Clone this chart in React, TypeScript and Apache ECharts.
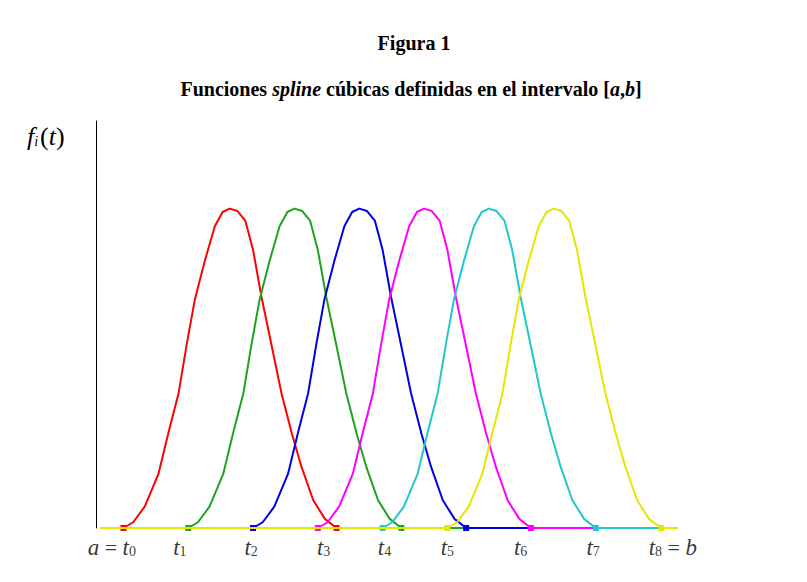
import React, { useEffect, useRef } from "react";
import * as echarts from "echarts";

// Curves: [t, f(t)]
const redCurve: number[][] = [
  [0, 0], [0.15, 0.012], [0.33, 0.045], [0.54, 0.113], [0.69, 0.197], [0.85, 0.281], [0.98, 0.386],
  [1.1, 0.476], [1.26, 0.56], [1.41, 0.63], [1.53, 0.66], [1.64, 0.667], [1.76, 0.662], [1.88, 0.642],
  [2.0, 0.581], [2.13, 0.483], [2.29, 0.379], [2.44, 0.281], [2.6, 0.197], [2.75, 0.127], [2.93, 0.058],
  [3.11, 0.019], [3.29, 0],
];
const greenCurve: number[][] = [
  [1, 0], [1.15, 0.012], [1.33, 0.045], [1.54, 0.113], [1.69, 0.197], [1.85, 0.281], [1.98, 0.386],
  [2.1, 0.476], [2.26, 0.56], [2.41, 0.63], [2.53, 0.66], [2.64, 0.667], [2.76, 0.662], [2.88, 0.642],
  [3.0, 0.581], [3.13, 0.483], [3.29, 0.379], [3.44, 0.281], [3.6, 0.197], [3.75, 0.127], [3.93, 0.058],
  [4.11, 0.019], [4.29, 0],
];
const blueCurve: number[][] = [
  [2, 0], [2.15, 0.012], [2.33, 0.045], [2.54, 0.113], [2.69, 0.197], [2.85, 0.281], [2.98, 0.386],
  [3.1, 0.476], [3.26, 0.56], [3.41, 0.63], [3.53, 0.66], [3.64, 0.667], [3.76, 0.662], [3.88, 0.642],
  [4.0, 0.581], [4.13, 0.483], [4.29, 0.379], [4.44, 0.281], [4.6, 0.197], [4.75, 0.127], [4.93, 0.058],
  [5.11, 0.019], [5.29, 0],
];
const magentaCurve: number[][] = [
  [3, 0], [3.15, 0.012], [3.33, 0.045], [3.54, 0.113], [3.69, 0.197], [3.85, 0.281], [3.98, 0.386],
  [4.1, 0.476], [4.26, 0.56], [4.41, 0.63], [4.53, 0.66], [4.64, 0.667], [4.76, 0.662], [4.88, 0.642],
  [5.0, 0.581], [5.13, 0.483], [5.29, 0.379], [5.44, 0.281], [5.6, 0.197], [5.75, 0.127], [5.93, 0.058],
  [6.11, 0.019], [6.29, 0],
];
const cyanCurve: number[][] = [
  [4, 0], [4.15, 0.012], [4.33, 0.045], [4.54, 0.113], [4.69, 0.197], [4.85, 0.281], [4.98, 0.386],
  [5.1, 0.476], [5.26, 0.56], [5.41, 0.63], [5.53, 0.66], [5.64, 0.667], [5.76, 0.662], [5.88, 0.642],
  [6.0, 0.581], [6.13, 0.483], [6.29, 0.379], [6.44, 0.281], [6.6, 0.197], [6.75, 0.127], [6.93, 0.058],
  [7.11, 0.019], [7.29, 0],
];
const yellowCurve: number[][] = [
  [5, 0], [5.15, 0.012], [5.33, 0.045], [5.54, 0.113], [5.69, 0.197], [5.85, 0.281], [5.98, 0.386],
  [6.1, 0.476], [6.26, 0.56], [6.41, 0.63], [6.53, 0.66], [6.64, 0.667], [6.76, 0.662], [6.88, 0.642],
  [7.0, 0.581], [7.13, 0.483], [7.29, 0.379], [7.44, 0.281], [7.6, 0.197], [7.75, 0.127], [7.93, 0.058],
  [8.11, 0.019], [8.3, 0],
];

const curveColors = ["#ff0000", "#1fa31f", "#0000e0", "#ff00ff", "#22c8c8", "#e6e600"];
const domain = [-0.36, 8.56];

// Knot labels: position on t axis and subscript
const knotPos = [-0.18, 0.87, 1.97, 3.09, 4.03, 5.0, 6.13, 7.25, 8.48];
const knotIdx = ["0", "1", "2", "3", "4", "5", "6", "7", "8"];

export default function App() {
  const ref = useRef<HTMLDivElement>(null);
  useEffect(() => {
    const chart = echarts.init(ref.current!, null, { renderer: "svg" });
    const curves = [redCurve, greenCurve, blueCurve, magentaCurve, cyanCurve, yellowCurve];
    const serif = "'Liberation Serif', 'Times New Roman', serif";
    const richT = {
      t: { fontFamily: serif, fontStyle: "italic", fontSize: 23, color: "#000" },
      s: { fontFamily: serif, fontSize: 14, color: "#000", padding: [8, 0, 0, 0] },
      e: { fontFamily: serif, fontSize: 22, color: "#000" },
    };
    const lineSeries = curves.map((c, i) => ({
      type: "line",
      data: [
        [domain[0], 0],
        ...c.map((p, j) =>
          j === 0 || j === c.length - 1
            ? { value: p, symbol: "rect", symbolSize: 6 }
            : { value: p, symbol: "none" }
        ),
        [domain[1], 0],
      ],
      showSymbol: true,
      symbol: "none",
      smooth: false,
      lineStyle: { color: curveColors[i], width: 2, join: "round" },
      itemStyle: { color: curveColors[i] },
      z: 2 + i,
    }));
    const labelSeries = {
      type: "scatter",
      symbolSize: 0,
      silent: true,
      z: 20,
      data: knotPos.map((x, i) => {
        let f = `{t|t}{s|${knotIdx[i]}}`;
        if (i === 0) f = `{t|a}{e| = }${f}`;
        if (i === knotPos.length - 1) f = `${f}{e| = }{t|b}`;
        return {
          value: [x, 0],
          label: { show: true, position: "bottom", distance: 8, formatter: f, rich: richT },
        };
      }),
    };
    chart.setOption({
      animation: false,
      backgroundColor: "#ffffff",
      grid: { left: 96, right: 129, top: 121, bottom: 54 },
      xAxis: { type: "value", min: -0.424, max: 8.56, show: false },
      yAxis: {
        type: "value",
        min: 0,
        max: 0.85,
        axisLine: { show: true, onZero: false, lineStyle: { color: "#000", width: 1 } },
        axisTick: { show: false },
        axisLabel: { show: false },
        splitLine: { show: false },
      },
      graphic: [
        {
          type: "text",
          x: 414,
          y: 43,
          style: {
            text: "Figura 1",
            font: `bold 20px ${serif}`,
            fill: "#000",
            textAlign: "center",
            textVerticalAlign: "middle",
          },
        },
        {
          type: "text",
          x: 411,
          y: 89,
          style: {
            text: "Funciones {i|spline} cúbicas definidas en el intervalo [{i|a},{i|b}]",
            font: `bold 20px ${serif}`,
            fill: "#000",
            textAlign: "center",
            textVerticalAlign: "middle",
            rich: {
              i: { fontFamily: serif, fontStyle: "italic", fontWeight: "bold", fontSize: 20, color: "#000" },
            },
          },
        },
        {
          type: "text",
          x: 27,
          y: 136,
          style: {
            text: "{f|f}{i|i}{p|(}{f|t}{p|)}",
            textVerticalAlign: "middle",
            rich: {
              f: { fontFamily: serif, fontStyle: "italic", fontSize: 26, color: "#000" },
              i: { fontFamily: serif, fontStyle: "italic", fontSize: 14, color: "#000", padding: [10, 2, 0, 0] },
              p: { fontFamily: serif, fontSize: 26, color: "#000" },
            },
          },
        },
      ],
      series: [...lineSeries, labelSeries],
    });
    return () => chart.dispose();
  }, []);
  return <div ref={ref} style={{ width: 807, height: 582, position: "absolute", left: 0, top: 0 }} />;
}
